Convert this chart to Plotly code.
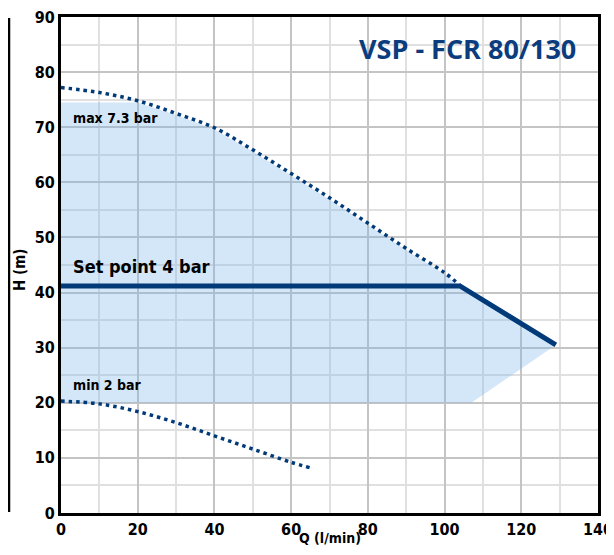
import plotly.graph_objects as go

# Data
max_q = [0, 10, 20, 30, 40, 50, 60, 70, 80, 90, 100, 104]
max_h = [77.2, 76.3, 74.8, 72.5, 69.9, 65.9, 61.6, 57.2, 52.6, 48.0, 43.6, 41.3]

min_q = [0, 10, 20, 30, 40, 50, 60, 65]
min_h = [20.3, 19.8, 18.4, 16.4, 14.0, 11.6, 9.2, 8.2]

set_q = [0, 104, 129]
set_h = [41.2, 41.2, 30.5]

env_q = [0, 0, 20, 30, 40, 50, 60, 70, 80, 90, 100, 104, 129, 107, 0]
env_h = [20, 74.5, 74.5, 72.2, 69.6, 65.6, 61.3, 56.9, 52.3, 47.7, 43.3, 41.2, 30.5, 20, 20]

x_ticks = [0, 20, 40, 60, 80, 100, 120, 140]
y_ticks = [0, 10, 20, 30, 40, 50, 60, 70, 80, 90]

NAVY = "#003a78"
FONT = "DejaVu Sans Condensed, Liberation Sans Narrow, Roboto"

# page body has an 8px margin; work in window pixels and convert
OFF = 8
W, H = 614 - OFF, 555 - 2 * OFF
PL, PR, PT, PB = 61, 598, 17, 513  # plot area in window pixels
L, T = PL - OFF, PT - OFF
R = W - (PR - OFF)
B = H - (PB - OFF)
pw, ph = PR - PL, PB - PT


def px_x(px):
    return (px - PL) / pw


def px_y(py):
    return (PB - py) / ph


fig = go.Figure()
fig.add_trace(go.Scatter(x=env_q, y=env_h, mode="lines", fill="toself",
                         fillcolor="rgba(120,180,235,0.32)", line=dict(width=0),
                         hoverinfo="skip", showlegend=False))
fig.add_trace(go.Scatter(x=max_q, y=max_h, mode="lines",
                         line=dict(color=NAVY, width=3.5, dash="3.5px,4px", shape="spline"),
                         showlegend=False))
fig.add_trace(go.Scatter(x=min_q, y=min_h, mode="lines",
                         line=dict(color=NAVY, width=3.5, dash="3.5px,4px", shape="spline"),
                         showlegend=False))
fig.add_trace(go.Scatter(x=set_q, y=set_h, mode="lines",
                         line=dict(color=NAVY, width=5), showlegend=False))

axis_common = dict(showline=True, mirror=True, linecolor="black", linewidth=3,
                   gridcolor="#c4c4c4", gridwidth=2, zeroline=False, ticks="",
                   automargin=False, ticklabeloverflow="allow",
                   tickfont=dict(family=FONT, size=16, color="black", weight="bold"))

fig.update_xaxes(range=[0, 140], tickvals=x_ticks, **axis_common,
                 minor=dict(dtick=10, tick0=0, gridcolor="#e0e0e0", gridwidth=1.5, showgrid=True))
fig.update_yaxes(range=[0, 90], tickvals=y_ticks, **axis_common,
                 minor=dict(dtick=5, tick0=0, gridcolor="#e0e0e0", gridwidth=1.5, showgrid=True))

annots = [
    dict(x=px_x(330), y=px_y(538), xref="paper", yref="paper", text="Q (l/min)", showarrow=False,
         font=dict(family=FONT, size=14, color="black", weight="bold"), xanchor="center", yanchor="middle"),
    dict(x=px_x(20), y=px_y(270), xref="paper", yref="paper", text="H (m)", showarrow=False, textangle=-90,
         font=dict(family=FONT, size=15, color="black", weight="bold"), xanchor="center", yanchor="middle"),
    dict(x=px_x(467), y=px_y(48), xref="paper", yref="paper", text="VSP - FCR 80/130", showarrow=False,
         xanchor="center", yanchor="middle",
         font=dict(family="Open Sans", size=27, color="#0b3c7d", weight="bold")),
    dict(x=2.5, y=71.7, text="max 7.3 bar", showarrow=False, xanchor="left", yanchor="middle",
         font=dict(family=FONT, size=14, color="black", weight="bold")),
    dict(x=2.5, y=44.8, text="Set point 4 bar", showarrow=False, xanchor="left", yanchor="middle",
         font=dict(family=FONT, size=18, color="black", weight="bold")),
    dict(x=2.5, y=23.2, text="min 2 bar", showarrow=False, xanchor="left", yanchor="middle",
         font=dict(family=FONT, size=14, color="black", weight="bold")),
]

fig.update_layout(
    width=W, height=H,
    margin=dict(l=L, r=R, t=T, b=B),
    plot_bgcolor="white", paper_bgcolor="white",
    annotations=annots,
    shapes=[dict(type="line", xref="paper", yref="paper",
                 x0=px_x(9), x1=px_x(9), y0=px_y(512), y1=px_y(18),
                 line=dict(color="black", width=2.5))],
)

fig.write_html("out.html")
